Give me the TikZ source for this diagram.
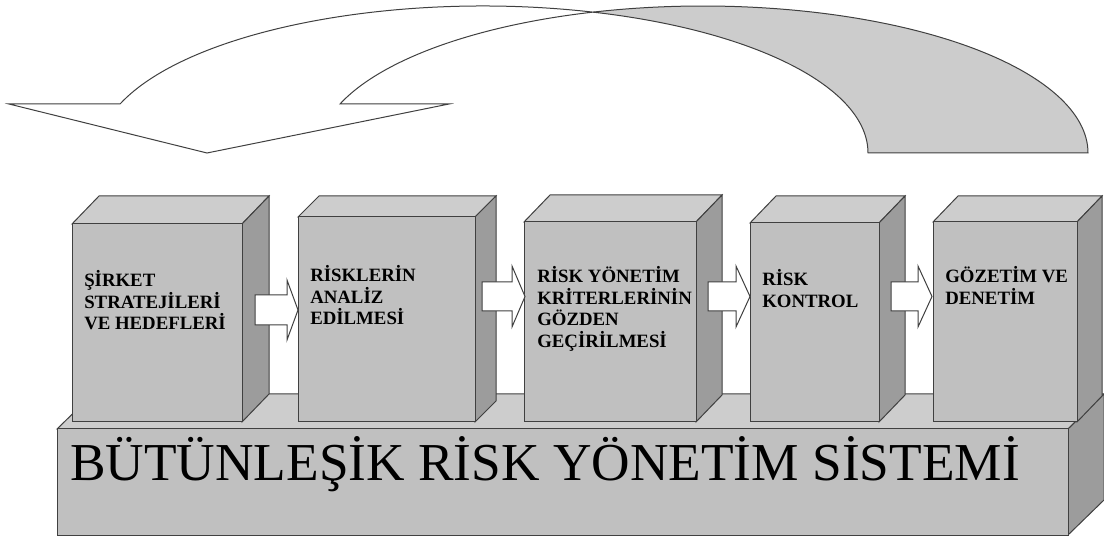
\documentclass[tikz,border=0pt]{standalone}
\usepackage{fontspec}
\setmainfont{Liberation Serif}
\definecolor{edge}{HTML}{404040}
\definecolor{frontc}{HTML}{C0C0C0}
\definecolor{topc}{HTML}{CDCDCD}
\definecolor{sidec}{HTML}{9C9C9C}
\definecolor{arrowgray}{HTML}{CCCCCC}
\tikzset{
  outl/.style={draw=edge, line width=0.75pt, line join=miter},
  frontface/.style={outl, fill=frontc},
  topface/.style={outl, fill=topc},
  sideface/.style={outl, fill=sidec},
  blockarrow/.style={outl, fill=white},
  bandface/.style={outl, fill=arrowgray},
  boxlabel/.style={anchor=base west, inner sep=0pt, font=\bfseries\fontsize{14.1}{16.1}\selectfont},
  baselabel/.style={anchor=base west, inner sep=0pt, font=\fontsize{40}{48}\selectfont},
}
\newcommand\drawcube[5]{%
  \filldraw[topface] (#1,#3) -- (#1+#4,#5) -- (#2+#4,#5) -- (#2,#3) -- cycle;
  \filldraw[sideface] (#2,#3) -- (#2+#4,#5) -- (#2+#4,422-#3+#5) -- (#2,422) -- cycle;
  \filldraw[frontface] (#1,#3) rectangle (#2,422);
}
\begin{document}
\begin{tikzpicture}[x=0.75pt,y=-0.75pt]
\useasboundingbox (0,0) rectangle (1104,538);

% curved arrow: grey back band
\filldraw[bandface] ([shift={(703,153)}]253.4:385 and 147)
  arc[start angle=253.4, end angle=360, x radius=385, y radius=147]
  -- (868,153)
  arc[start angle=360, end angle=286.6, x radius=385, y radius=147]
  -- cycle;
% curved arrow: white front with head
\filldraw[blockarrow] ([shift={(483,153)}]199.5:385 and 147)
  arc[start angle=199.5, end angle=286.6, x radius=385, y radius=147]
  arc[start angle=253.4, end angle=199.5, x radius=385, y radius=147]
  -- (449,104) -- (207,153) -- (9,104) -- cycle;

% base block
\filldraw[topface] (57,429) -- (93,394) -- (1104,394) -- (1068,429) -- cycle;
\filldraw[sideface] (1068,429) -- (1104,394) -- (1104,500) -- (1068,535) -- cycle;
\filldraw[frontface] (57,429) rectangle (1068,535);
\node[baselabel] (base) at (70,480) {BÜTÜNLEŞİK RİSK YÖNETİM SİSTEMİ};

% step boxes
\drawcube{72}{242}{224}{27}{196}
\drawcube{298}{475}{217}{21}{196}
\drawcube{524}{696}{222}{26}{195}
\drawcube{750}{879}{223}{26}{196}
\drawcube{933}{1077}{222}{25}{196}

% block arrows between boxes
\filldraw[blockarrow] (255,295) -- (287,295) -- (287,280) -- (298,310) -- (287,340) -- (287,325) -- (255,325) -- cycle;
\filldraw[blockarrow] (482,282) -- (512,282) -- (512,266) -- (525,296.5) -- (512,327) -- (512,311) -- (482,311) -- cycle;
\filldraw[blockarrow] (708,282) -- (736,282) -- (736,266) -- (750,296.5) -- (736,327) -- (736,311) -- (708,311) -- cycle;
\filldraw[blockarrow] (891,282) -- (918,282) -- (918,266) -- (932,296.5) -- (918,327) -- (918,311) -- (891,311) -- cycle;

% labels
\node[boxlabel] (t1) at (84,287) {\parbox[t]{200pt}{\raggedright ŞİRKET\\STRATEJİLERİ\\VE HEDEFLERİ}};
\node[boxlabel] (t2) at (310,282) {\parbox[t]{200pt}{\raggedright RİSKLERİN\\ANALİZ\\EDİLMESİ}};
\node[boxlabel] (t3) at (537,283) {\parbox[t]{200pt}{\raggedright RİSK YÖNETİM\\KRİTERLERİNİN\\GÖZDEN\\GEÇİRİLMESİ}};
\node[boxlabel] (t4) at (762,286) {\parbox[t]{200pt}{\raggedright RİSK\\KONTROL}};
\node[boxlabel] (t5) at (945,283) {\parbox[t]{200pt}{\raggedright GÖZETİM VE\\DENETİM}};
\end{tikzpicture}
\end{document}
